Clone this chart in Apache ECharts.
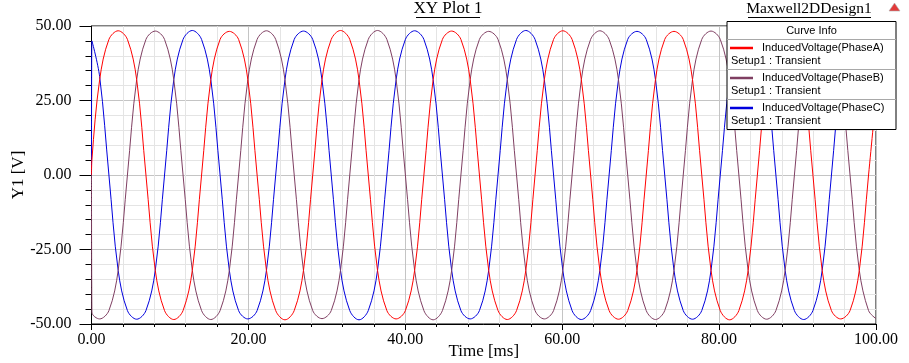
<!DOCTYPE html>
<html>
<head>
<meta charset="utf-8">
<script src="https://cdn.jsdelivr.net/npm/echarts@6/dist/echarts.min.js"></script>
<style>
html,body{margin:0;padding:0;background:#fff;}
#chart{width:909px;height:363px;}
</style>
</head>
<body>
<div id="chart"></div>
<script>
// ---- data ----
const chartTitle = 'XY Plot 1';
const designName = 'Maxwell2DDesign1';
const xName = 'Time [ms]';
const yName = 'Y1 [V]';
const seriesNames = ['InducedVoltage(PhaseA)', 'InducedVoltage(PhaseB)', 'InducedVoltage(PhaseC)'];
const setupLabel = 'Setup1 : Transient';
const seriesColors = ['#ff0000', '#7f3f62', '#0000dd'];

const times = [
  0, 0.05, 1.04, 2.22, 3.40, 4.58, 5.76, 6.94, 8.13, 9.31, 10.49, 11.67, 12.85, 14.03,
  15.21, 16.39, 17.57, 18.75, 19.93, 21.11, 22.30, 23.48, 24.66, 25.84, 27.02, 28.20,
  29.38, 30.56, 31.74, 32.92, 34.10, 35.28, 36.46, 37.65, 38.83, 40.01, 41.19, 42.37,
  43.55, 44.73, 45.91, 47.09, 48.27, 49.45, 50.63, 51.82, 53.00, 54.18, 55.36, 56.54,
  57.72, 58.90, 60.08, 61.26, 62.44, 63.62, 64.80, 65.98, 67.17, 68.35, 69.53, 70.71,
  71.89, 73.07, 74.25, 75.43, 76.61, 77.79, 78.97, 80.15, 81.34, 82.52, 83.70, 84.88,
  86.06, 87.24, 88.42, 89.60, 90.78, 91.96, 93.14, 94.32, 95.50, 96.69, 97.87, 99.05, 100
];

const phaseA = [
  0, 5,
  32, 45.5, 48.4, 45.5, 32, 0, -32, -45.5, -48.5, -45.5, -32, 0,
  32, 45.5, 48.2, 45.5, 32, 0, -32, -45.5, -48.6, -45.5, -32, 0,
  32, 45.5, 48.5, 45.5, 32, 0, -32, -45.5, -48.3, -45.5, -32, 0,
  32, 45.5, 48.3, 45.5, 32, 0, -32, -45.5, -48.5, -45.5, -32, 0,
  32, 45.5, 48.4, 45.5, 32, 0, -32, -45.5, -48.4, -45.5, -32, 0,
  32, 45.5, 48.2, 45.5, 32, 0, -32, -45.5, -48.6, -45.5, -32, 0,
  32, 45.5, 48.5, 45.5, 32, 0, -32, -45.5, -48.3, -45.5, -32, 0,
  26
];

const phaseB = [
  0, -46,
  -48.3, -45.5, -32, 0, 32, 45.5, 48.3, 45.5, 32, 0, -32, -45.5,
  -48.5, -45.5, -32, 0, 32, 45.5, 48.4, 45.5, 32, 0, -32, -45.5,
  -48.2, -45.5, -32, 0, 32, 45.5, 48.5, 45.5, 32, 0, -32, -45.5,
  -48.6, -45.5, -32, 0, 32, 45.5, 48.2, 45.5, 32, 0, -32, -45.5,
  -48.3, -45.5, -32, 0, 32, 45.5, 48.4, 45.5, 32, 0, -32, -45.5,
  -48.5, -45.5, -32, 0, 32, 45.5, 48.3, 45.5, 32, 0, -32, -45.5,
  -48.4, -45.5, -32, 0, 32, 45.5, 48.5, 45.5, 32, 0, -32, -45.5,
  -48.2
];

const phaseC = [
  0, 45,
  33, 0, -32, -45.5, -48.4, -45.5, -32, 0, 32, 45.5, 48.5, 45.5,
  32, 0, -32, -45.5, -48.3, -45.5, -32, 0, 32, 45.5, 48.3, 45.5,
  32, 0, -32, -45.5, -48.6, -45.5, -32, 0, 32, 45.5, 48.4, 45.5,
  32, 0, -32, -45.5, -48.3, -45.5, -32, 0, 32, 45.5, 48.5, 45.5,
  32, 0, -32, -45.5, -48.5, -45.5, -32, 0, 32, 45.5, 48.2, 45.5,
  32, 0, -32, -45.5, -48.4, -45.5, -32, 0, 32, 45.5, 48.5, 45.5,
  32, 0, -32, -45.5, -48.5, -45.5, -32, 0, 32, 45.5, 48.4, 45.5,
  38
];

// ---- chart ----
const serif = 'Liberation Serif';
const sans = 'Liberation Sans';
const seriesValues = [phaseA, phaseB, phaseC];

const chart = echarts.init(document.getElementById('chart'), null, {renderer: 'canvas'});

const series = seriesValues.map((vals, i) => ({
  name: seriesNames[i],
  type: 'line',
  data: times.map((t, j) => [t, vals[j]]),
  showSymbol: false,
  smooth: 0.35,
  lineStyle: {color: seriesColors[i], width: 1},
  itemStyle: {color: seriesColors[i]},
  clip: true,
  animation: false,
  z: 3 - i
}));

// legend box (Curve Info)
const lx = 727, ly = 21.5, lw = 169, lh = 108;
const legendEls = [
  {type: 'rect', shape: {x: lx, y: ly, width: lw, height: lh}, style: {fill: '#fff', stroke: '#000', lineWidth: 1}, z: 10},
  {type: 'text', x: lx + lw / 2, y: 30.5, style: {text: 'Curve Info', font: '11px ' + sans, fill: '#000', align: 'center', verticalAlign: 'middle'}, z: 11}
];
seriesNames.forEach((nm, i) => {
  const top = 39.5 + i * 30;
  legendEls.push({type: 'line', shape: {x1: lx, y1: top, x2: lx + lw, y2: top}, style: {stroke: '#a8a8a8', lineWidth: 1}, z: 11});
  legendEls.push({type: 'line', shape: {x1: 730, y1: top + 8.5, x2: 753, y2: top + 8.5}, style: {stroke: seriesColors[i], lineWidth: 2.5}, z: 11});
  legendEls.push({type: 'text', x: 762, y: top + 8.5, style: {text: nm, font: '11px ' + sans, fill: '#000', verticalAlign: 'middle'}, z: 11});
  legendEls.push({type: 'text', x: 731, y: top + 21, style: {text: setupLabel, font: '11px ' + sans, fill: '#000', verticalAlign: 'middle'}, z: 11});
});

const option = {
  animation: false,
  backgroundColor: '#fff',
  grid: {left: 91.5, top: 26, width: 784.5, height: 298, show: true, borderColor: '#000', borderWidth: 1, backgroundColor: 'transparent', containLabel: false, outerBoundsMode: 'none'},
  xAxis: {
    type: 'value', min: 0, max: 100, interval: 20,
    name: xName, nameLocation: 'middle', nameGap: 19, nameMoveOverlap: false,
    nameTextStyle: {fontFamily: serif, fontSize: 17, color: '#000'},
    axisLine: {show: true, onZero: false, lineStyle: {color: '#000', width: 1}},
    axisTick: {show: true, length: 6, lineStyle: {color: '#000'}},
    minorTick: {show: true, splitNumber: 5, length: 3, lineStyle: {color: '#000'}},
    splitLine: {show: true, lineStyle: {color: '#c4c4c4', width: 1}},
    minorSplitLine: {show: true, lineStyle: {color: '#e4e4e4', width: 1}},
    axisLabel: {fontFamily: serif, fontSize: 16, color: '#000', margin: 8, formatter: v => v.toFixed(2)}
  },
  yAxis: {
    type: 'value', min: -50, max: 50, interval: 25,
    name: yName, nameLocation: 'middle', nameGap: 64, nameMoveOverlap: false,
    nameTextStyle: {fontFamily: serif, fontSize: 17, color: '#000'},
    axisLine: {show: true, onZero: false, lineStyle: {color: '#000', width: 1}},
    axisTick: {show: true, length: 12, lineStyle: {color: '#000'}},
    minorTick: {show: true, splitNumber: 5, length: 6, lineStyle: {color: '#000'}},
    splitLine: {show: true, lineStyle: {color: '#c4c4c4', width: 1}},
    minorSplitLine: {show: true, lineStyle: {color: '#e4e4e4', width: 1}},
    axisLabel: {fontFamily: serif, fontSize: 16, color: '#000', margin: 20, formatter: v => v.toFixed(2)}
  },
  series: series,
  graphic: [
    {type: 'text', x: 448, y: 9, style: {text: chartTitle, font: '17px ' + serif, fill: '#000', align: 'center', verticalAlign: 'middle'}, z: 10},
    {type: 'line', shape: {x1: 416, y1: 17.5, x2: 480, y2: 17.5}, style: {stroke: '#000', lineWidth: 1}, z: 10},
    {type: 'text', x: 809, y: 9, style: {text: designName, font: '15.5px ' + serif, fill: '#000', align: 'center', verticalAlign: 'middle'}, z: 10},
    {type: 'line', shape: {x1: 748, y1: 17.5, x2: 871, y2: 17.5}, style: {stroke: '#000', lineWidth: 1}, z: 10},
    {type: 'polygon', shape: {points: [[894.5, 3], [889, 11], [900, 11]]}, style: {fill: '#e23a3a', stroke: '#b0b0b0', lineWidth: 0.6}, z: 10}
  ].concat(legendEls)
};
chart.setOption(option);
</script>
</body>
</html>
